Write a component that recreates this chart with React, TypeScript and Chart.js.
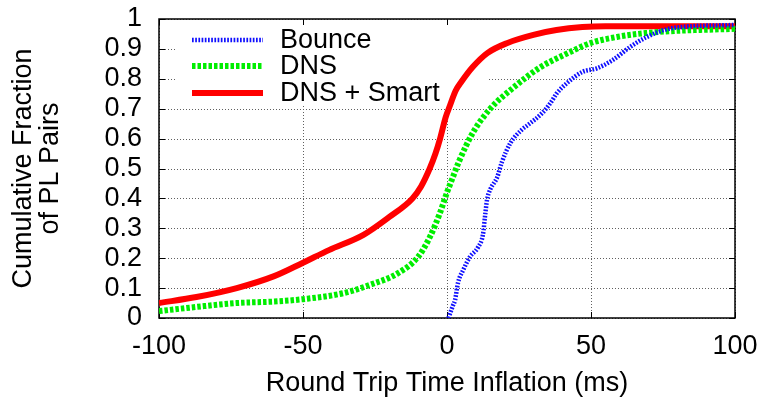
import React, { useEffect, useRef } from "react";
import { Chart, registerables } from "chart.js";

Chart.register(...registerables);

// ---- Data ----
const bounceX = [0.5, 2, 2.8, 3.8, 5.6, 8, 10.8, 12.5, 13.2, 13.9, 15, 17.4, 19, 22, 26, 28, 33, 36, 38, 41.7, 47, 52, 57.6, 63.5, 69.4, 78.5, 100];
const bounceY = [0, 0.04, 0.06, 0.117, 0.16, 0.205, 0.237, 0.28, 0.34, 0.395, 0.43, 0.47, 0.52, 0.585, 0.63, 0.645, 0.685, 0.72, 0.75, 0.786, 0.823, 0.835, 0.863, 0.906, 0.94, 0.97, 0.98];

const dnsX = [-100, -87, -73, -60, -50, -36, -27, -17, -10, -6, -2.5, 0, 2, 4, 9, 15, 23, 32, 42, 50, 59, 69, 79, 100];
const dnsY = [0.023, 0.037, 0.05, 0.055, 0.063, 0.083, 0.11, 0.15, 0.205, 0.27, 0.35, 0.42, 0.47, 0.52, 0.62, 0.7, 0.77, 0.836, 0.886, 0.92, 0.94, 0.953, 0.96, 0.967];

const smartX = [-100, -87, -73, -60, -50, -41, -29, -20, -12, -9, -6, -4, -2.4, -0.5, 1, 3, 5, 9, 14, 21, 30, 38, 47, 55, 100];
const smartY = [0.05, 0.07, 0.1, 0.14, 0.185, 0.227, 0.278, 0.338, 0.4, 0.44, 0.5, 0.55, 0.6, 0.67, 0.71, 0.76, 0.79, 0.84, 0.886, 0.92, 0.947, 0.963, 0.973, 0.976, 0.976];

const seriesNames = ["Bounce", "DNS", "DNS + Smart"];
const xTickLabels = ["-100", "-50", "0", "50", "100"];
const yTickLabels = ["0", "0.1", "0.2", "0.3", "0.4", "0.5", "0.6", "0.7", "0.8", "0.9", "1"];
const xTitle = "Round Trip Time Inflation (ms)";
const yTitle = ["Cumulative Fraction", "of PL Pairs"];

const FONT = '"Liberation Sans", Arial, Helvetica, sans-serif';
const FS = 27;

const toPoints = (xs: number[], ys: number[]) => xs.map((x, i) => ({ x, y: ys[i] }));

const framePlugin = {
  id: "frame",
  beforeDatasetsDraw(chart: any) {
    const { ctx, chartArea: a, scales } = chart;
    const xs = scales.x;
    const ys = scales.y;
    ctx.save();
    // grid
    ctx.strokeStyle = "#606060";
    ctx.lineWidth = 1;
    ctx.setLineDash([1, 2]);
    ys.ticks.forEach((t: any) => {
      const p = Math.round(ys.getPixelForValue(t.value)) + 0.5;
      ctx.beginPath();
      ctx.moveTo(a.left, p);
      ctx.lineTo(a.right, p);
      ctx.stroke();
    });
    xs.ticks.forEach((t: any) => {
      const p = Math.round(xs.getPixelForValue(t.value)) + 0.5;
      ctx.beginPath();
      ctx.moveTo(p, a.top);
      ctx.lineTo(p, a.bottom);
      ctx.stroke();
    });
    ctx.setLineDash([]);
    // opaque key box
    ctx.fillStyle = "#fff";
    ctx.fillRect(a.left + 17, a.top + 6, 312, 80);
    // border
    ctx.strokeStyle = "#000";
    ctx.lineWidth = 1.5;
    ctx.strokeRect(a.left, a.top, a.right - a.left, a.bottom - a.top);
    // tick marks (inward, mirrored)
    ctx.lineWidth = 1;
    const tl = 6;
    ys.ticks.forEach((t: any) => {
      const p = Math.round(ys.getPixelForValue(t.value)) + 0.5;
      ctx.beginPath();
      ctx.moveTo(a.left, p);
      ctx.lineTo(a.left + tl, p);
      ctx.moveTo(a.right, p);
      ctx.lineTo(a.right - tl, p);
      ctx.stroke();
    });
    xs.ticks.forEach((t: any) => {
      const p = Math.round(xs.getPixelForValue(t.value)) + 0.5;
      ctx.beginPath();
      ctx.moveTo(p, a.bottom);
      ctx.lineTo(p, a.bottom - tl);
      ctx.moveTo(p, a.top);
      ctx.lineTo(p, a.top + tl);
      ctx.stroke();
    });
    ctx.restore();
  },
  afterDatasetsDraw(chart: any) {
    const { ctx, chartArea: a } = chart;
    ctx.save();
    const rows = [21, 47, 74];
    chart.data.datasets.forEach((ds: any, i: number) => {
      const y = a.top + rows[i];
      ctx.strokeStyle = ds.borderColor;
      ctx.lineWidth = ds.borderWidth;
      ctx.setLineDash(ds.borderDash || []);
      ctx.lineCap = "butt";
      ctx.beginPath();
      ctx.moveTo(a.left + 33, y);
      ctx.lineTo(a.left + 104, y);
      ctx.stroke();
      ctx.setLineDash([]);
      ctx.fillStyle = "#000";
      ctx.font = `${FS}px ${FONT}`;
      ctx.textAlign = "left";
      ctx.textBaseline = "alphabetic";
      ctx.fillText(ds.label, a.left + 121, y + 8);
    });
    ctx.restore();
  },
};

export default function App() {
  const ref = useRef<HTMLCanvasElement>(null);
  useEffect(() => {
    if (!ref.current) return;
    const chart = new Chart(ref.current, {
      type: "line",
      data: {
        datasets: [
          {
            label: seriesNames[0],
            data: toPoints(bounceX, bounceY),
            borderColor: "#1010ff",
            borderWidth: 4.5,
            borderDash: [1.7, 1.5],
            pointRadius: 0,
            fill: false,
            cubicInterpolationMode: "monotone",
          },
          {
            label: seriesNames[1],
            data: toPoints(dnsX, dnsY),
            borderColor: "#00ee00",
            borderWidth: 6,
            borderDash: [3.5, 2],
            pointRadius: 0,
            fill: false,
            cubicInterpolationMode: "monotone",
          },
          {
            label: seriesNames[2],
            data: toPoints(smartX, smartY),
            borderColor: "#ff0000",
            borderWidth: 6,
            pointRadius: 0,
            fill: false,
            cubicInterpolationMode: "monotone",
          },
        ],
      },
      options: {
        animation: false,
        responsive: false,
        devicePixelRatio: 1,
        layout: { padding: { top: 19, right: 27, left: 0, bottom: 0 } },
        plugins: { legend: { display: false }, tooltip: { enabled: false } },
        scales: {
          x: {
            type: "linear",
            min: -100,
            max: 100,
            ticks: {
              stepSize: 50,
              autoSkip: false,
              maxRotation: 0,
              color: "#000",
              font: { family: FONT, size: FS },
              padding: 12,
              callback: (_v: any, i: number) => xTickLabels[i],
            },
            grid: { display: false, drawTicks: false },
            border: { display: false },
            title: {
              display: true,
              text: xTitle,
              color: "#000",
              font: { family: FONT, size: FS },
              padding: { top: 0, bottom: 0 },
            },
            afterFit: (s: any) => {
              s.height = 82;
              s.paddingLeft = 0;
              s.paddingRight = 0;
            },
          },
          y: {
            type: "linear",
            min: 0,
            max: 1,
            ticks: {
              stepSize: 0.1,
              autoSkip: false,
              color: "#000",
              font: { family: FONT, size: FS },
              padding: 17,
              callback: (_v: any, i: number) => yTickLabels[i],
            },
            grid: { display: false, drawTicks: false },
            border: { display: false },
            title: {
              display: true,
              text: yTitle,
              color: "#000",
              font: { family: FONT, size: FS, lineHeight: 1.0 },
              padding: { top: 10, bottom: 0 },
            },
            afterFit: (s: any) => {
              s.width = 159;
              s.paddingTop = 0;
              s.paddingBottom = 0;
            },
          },
        },
      } as any,
      plugins: [framePlugin],
    });
    return () => chart.destroy();
  }, []);
  return (
    <div style={{ position: "absolute", left: 0, top: 0, width: 762, height: 400, background: "#fff" }}>
      <canvas ref={ref} width={762} height={400} />
    </div>
  );
}
